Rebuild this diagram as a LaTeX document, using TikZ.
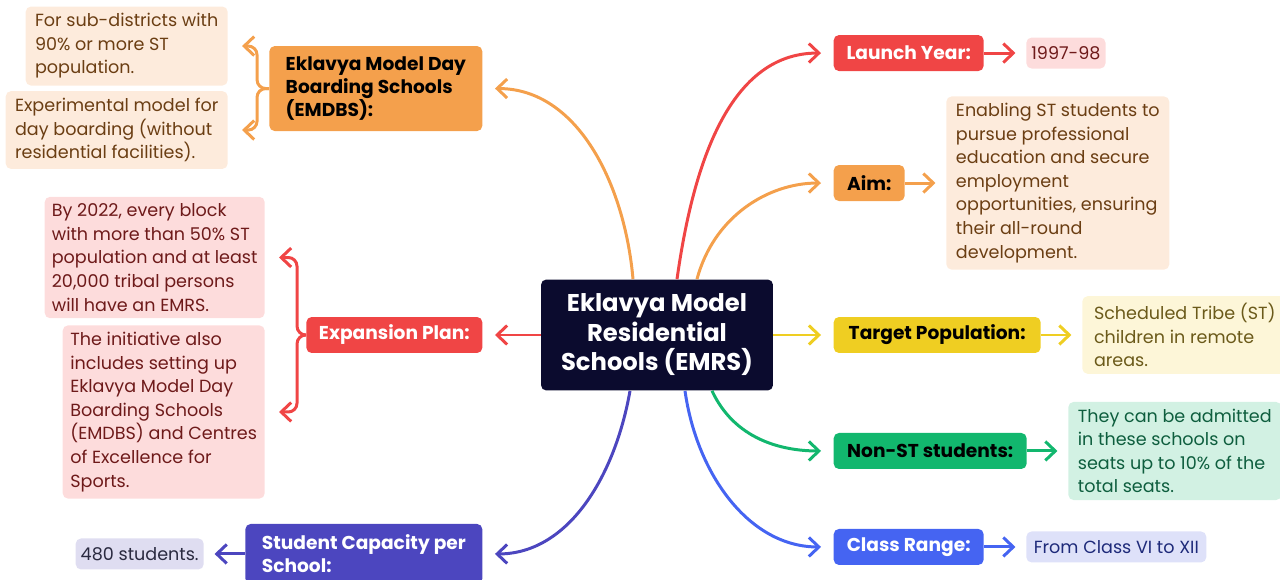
\documentclass[tikz,border=0pt]{standalone}
\usepackage{fontspec}
\setmainfont{Poppins}
\usepackage{tikz}
\usetikzlibrary{shapes,arrows.meta,positioning,calc}
\definecolor{navy}{HTML}{0B0B2E}
\definecolor{redc}{HTML}{F04545}
\definecolor{orangec}{HTML}{F4A04C}
\definecolor{yellowc}{HTML}{EFCE22}
\definecolor{greenc}{HTML}{12B76E}
\definecolor{bluec}{HTML}{4564F2}
\definecolor{purplec}{HTML}{4C46BF}
\definecolor{pinkbg}{HTML}{FDDCDC}
\definecolor{pinktx}{HTML}{6E1A1A}
\definecolor{peachbg}{HTML}{FDEBDC}
\definecolor{peachtx}{HTML}{6B3E13}
\definecolor{creambg}{HTML}{FDF6D8}
\definecolor{creamtx}{HTML}{6B5A1A}
\definecolor{mintbg}{HTML}{D2F1E3}
\definecolor{minttx}{HTML}{0E5E3E}
\definecolor{lavbg}{HTML}{DEE1F9}
\definecolor{lavtx}{HTML}{1E2A7A}
\definecolor{lilacbg}{HTML}{DFDDF1}
\definecolor{lilactx}{HTML}{2A2A40}
\tikzstyle{hub} = [fill=navy, text=white, rounded corners=3pt, align=center,
font=\bfseries\fontsize{13.8}{16.8}\selectfont, minimum width=4.64cm, minimum height=2.22cm]
\tikzstyle{topic} = [rounded corners=3pt, font=\bfseries\fontsize{10.6}{13.2}\selectfont,
minimum height=0.72cm, inner xsep=0.24cm]
\tikzstyle{detail} = [rounded corners=3pt, font=\fontsize{10}{13.4}\selectfont, align=left,
inner xsep=0.1cm, inner ysep=0.14cm, minimum height=0.62cm]
\tikzstyle{link} = [line width=1.7pt, ->, shorten >=7pt]
\tikzstyle{brace} = [line width=1.7pt, ->, rounded corners=5pt, shorten >=0.28cm]

\begin{document}
\begin{tikzpicture}[x=0.02cm, y=-0.02cm, >={Straight Barb[length=2mm,width=3.8mm]}]
		\useasboundingbox (0,0) rectangle (1280,580);
		\clip (0,0) rectangle (1280,580);
		\node(emrs)[hub] at (657,335) {Eklavya Model\\Residential\\Schools (EMRS)};
		
		% right side
		\node(launch)[topic, fill=redc, text=white, minimum width=3cm, right=1.2cm of emrs, yshift=5.64cm]{Launch Year:};
		\node(aim)[topic, fill=orangec, minimum width=1.42cm, right=1.2cm of emrs, yshift=3.04cm]{Aim:};
		\node(target)[topic, fill=yellowc, minimum width=4.14cm, right=1.2cm of emrs]{Target Population:};
		\node(nonst)[topic, fill=greenc, minimum width=3.86cm, right=1.2cm of emrs, yshift=-2.32cm]{Non-ST students:};
		\node(classr)[topic, fill=bluec, text=white, minimum width=3cm, right=1.2cm of emrs, yshift=-4.24cm]{Class Range:};
		
		\node(yeard)[detail, fill=pinkbg, text=pinktx, minimum width=1.54cm, right=0.84cm of launch]{1997-98};
		\node(aimd)[detail, fill=peachbg, text=peachtx, minimum width=4.46cm, right=0.82cm of aim]{Enabling ST students to\\pursue professional\\education and secure\\employment\\opportunities, ensuring\\their all-round\\development.};
		\node(targetd)[detail, fill=creambg, text=creamtx, minimum width=4.1cm, right=0.82cm of target]{Scheduled Tribe (ST)\\children in remote\\areas.};
		\node(nonstd)[detail, fill=mintbg, text=minttx, minimum width=4.26cm, right=0.82cm of nonst]{They can be admitted\\in these schools on\\seats up to 10\% of the\\total seats.};
		\node(classd)[detail, fill=lavbg, text=lavtx, minimum width=3.6cm, right=0.84cm of classr]{From Class VI to XII};
		
		% left side
		\node(emdbs)[topic, fill=orangec, align=left, minimum width=4.26cm, minimum height=1.7cm, left=1.16cm of emrs, yshift=4.93cm]{Eklavya Model Day\\Boarding Schools\\(EMDBS):};
		\node(plan)[topic, fill=redc, text=white, minimum width=3.52cm, left=1.16cm of emrs]{Expansion Plan:};
		\node(capacity)[topic, fill=purplec, text=white, align=left, minimum width=4.74cm, minimum height=1.2cm, left=1.16cm of emrs, yshift=-4.38cm]{Student Capacity per\\School:};
		
		\node(subdist)[detail, fill=peachbg, text=peachtx, minimum width=4.04cm, left=0.82cm of emdbs, yshift=0.85cm]{For sub-districts with\\90\% or more ST\\population.};
		\node(daybd)[detail, fill=peachbg, text=peachtx, minimum width=4.44cm, left=0.82cm of emdbs, yshift=-0.83cm]{Experimental model for\\day boarding (without\\residential facilities).};
		\node(block)[detail, fill=pinkbg, text=pinktx, minimum width=4.4cm, left=0.82cm of plan, yshift=1.55cm]{By 2022, every block\\with more than 50\% ST\\population and at least\\20,000 tribal persons\\will have an EMRS.};
		\node(initv)[detail, fill=pinkbg, text=pinktx, minimum width=4.04cm, left=0.82cm of plan, yshift=-1.54cm]{The initiative also\\includes setting up\\Eklavya Model Day\\Boarding Schools\\(EMDBS) and Centres\\of Excellence for\\Sports.};
		\node(seats)[detail, fill=lilacbg, text=lilactx, minimum width=2.56cm, left=0.82cm of capacity]{480 students.};
		
		% hub to topics
		\draw[link, redc] ($(emrs.north)+(20,0)$) to[out=82, in=180] (launch.west);
		\draw[link, orangec] ($(emrs.north)+(40,0)$) to[out=75, in=180] (aim.west);
		\draw[link, yellowc] (emrs.east) -- (target.west);
		\draw[link, greenc] ($(emrs.south)+(55,0)$) to[out=-65, in=180] (nonst.west);
		\draw[link, bluec] ($(emrs.south)+(28,0)$) to[out=-82, in=180] (classr.west);
		\draw[link, orangec] ($(emrs.north)+(-24,0)$) to[out=95, in=0] (emdbs.east);
		\draw[link, redc] (emrs.west) -- (plan.east);
		\draw[link, purplec] ($(emrs.south)+(-27,0)$) to[out=-100, in=0] (capacity.east);
		
		% topics to details
		\draw[link, redc, shorten >=6pt] (launch) -- (yeard);
		\draw[link, orangec, shorten >=6pt] (aim) -- (aimd);
		\draw[link, yellowc, shorten >=6pt] (target) -- (targetd);
		\draw[link, greenc, shorten >=6pt] (nonst) -- (nonstd);
		\draw[link, bluec, shorten >=6pt] (classr) -- (classd);
		\draw[link, purplec, shorten >=6pt] (capacity) -- (seats);
		\draw[brace, orangec] (emdbs.west) -- ++(-12,0) |- (subdist.east);
		\draw[brace, orangec] (emdbs.west) -- ++(-12,0) |- (daybd.east);
		\draw[brace, redc] (plan.west) -- ++(-9,0) |- (block.east);
		\draw[brace, redc] (plan.west) -- ++(-9,0) |- (initv.east);
\end{tikzpicture}
\end{document}
